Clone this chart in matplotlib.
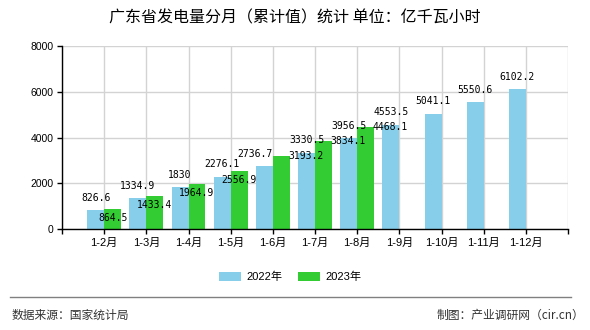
from matplotlib import pyplot as plt
from matplotlib.patches import Patch
from matplotlib.lines import Line2D
import numpy as np

# Data
months = ['1-2月', '1-3月', '1-4月', '1-5月', '1-6月', '1-7月',
          '1-8月', '1-9月', '1-10月', '1-11月', '1-12月']
values_2022 = [826.6, 1334.9, 1830, 2276.1, 2736.7, 3330.5,
               3956.5, 4553.5, 5041.1, 5550.6, 6102.2]
values_2023 = [864.5, 1433.4, 1964.9, 2556.9, 3193.2, 3834.1, 4468.1]
series_names = ['2022年', '2023年']
yticks = [0, 2000, 4000, 6000, 8000]

# Style
color_2022 = '#87CEEB'
color_2023 = '#33CC33'
cjk = ['Noto Sans CJK SC', 'DejaVu Sans']
tickfont = ['Liberation Sans', 'Noto Sans CJK SC']
labelfont = 'DejaVu Sans Mono'

fig = plt.figure(figsize=(5.9, 3.3), dpi=100)
ax = fig.add_axes([62 / 590, 1 - 229 / 330, (568 - 62) / 590, (229 - 46) / 330])

x = np.arange(len(months))
width = 0.4
ax.bar(x - width, values_2022, width, align='edge', color=color_2022, zorder=2)
ax.bar(x[:len(values_2023)], values_2023, width, align='edge', color=color_2023, zorder=2)

# Value labels (pixel offsets mimic the original label layout)
for i, v in enumerate(values_2022):
    dx = -9 if i == 4 else 0
    ax.annotate(f'{v:g}', (i - width / 2, v), xytext=(dx, 12.5),
                textcoords='offset pixels', ha='center', va='center',
                fontsize=7, family=labelfont, zorder=3)
for i, v in enumerate(values_2023):
    if i >= 4:
        dx, dy = 25, 0
    else:
        dx, dy = 0, -9
    ax.annotate(f'{v:g}', (i + width / 2, v), xytext=(dx, dy),
                textcoords='offset pixels', ha='center', va='center',
                fontsize=7, family=labelfont, zorder=3)

# Axes
ax.set_xlim(-1, 11)
ax.set_ylim(0, 8000)
ax.set_xticks(np.arange(-1, 12))
ax.set_xticklabels([''] + months + [''], family=tickfont, fontsize=8)
ax.set_yticks(yticks)
ax.set_yticklabels([str(t) for t in yticks], family=tickfont, fontsize=7.5)
ax.tick_params(axis='both', direction='out', length=3.6, width=1, color='black', pad=2.5)

for s in ['top', 'right']:
    ax.spines[s].set_visible(False)
for s in ['left', 'bottom']:
    ax.spines[s].set_color('black')
    ax.spines[s].set_linewidth(1)

ax.grid(color='#d3d3d3', linewidth=1)
ax.set_axisbelow(True)

# Title
fig.text(295 / 590, 1 - 18 / 330, '广东省发电量分月（累计值）统计 单位：亿千瓦小时',
         ha='center', va='center', fontsize=11.5, family=cjk)

# Legend
handles = [Patch(facecolor=color_2022, edgecolor='none'),
           Patch(facecolor=color_2023, edgecolor='none')]
fig.legend(handles, series_names, loc='center', bbox_to_anchor=(290 / 590, 1 - 277 / 330),
           ncol=2, frameon=False, prop={'family': tickfont, 'size': 8},
           handlelength=2.0, handleheight=0.8, handletextpad=0.45, columnspacing=1.45)

# Footer
fig.add_artist(Line2D([10 / 590, 571 / 590], [1 - 297 / 330] * 2, color='#808080', linewidth=1))
fig.text(12 / 590, 1 - 315 / 330, '数据来源：国家统计局', ha='left', va='center',
         fontsize=8.5, color='#333333', family=cjk)
fig.text(584 / 590, 1 - 315 / 330, '制图：产业调研网（cir.cn）', ha='right', va='center',
         fontsize=8.5, color='#333333', family=cjk)

fig.savefig('out.png', dpi=100)
